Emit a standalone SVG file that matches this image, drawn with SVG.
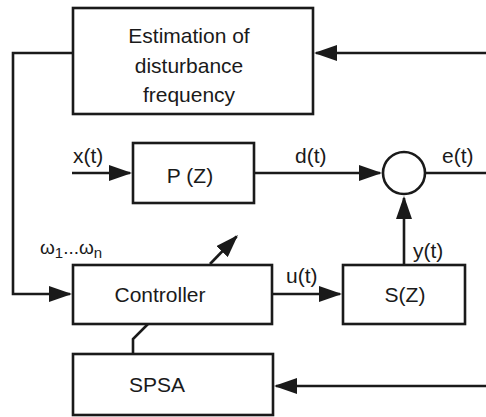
<svg xmlns="http://www.w3.org/2000/svg" width="486" height="417" viewBox="0 0 486 417">
<defs>
<style>
.box{fill:#fff;stroke:#1a1a1a;stroke-width:2.6}
.ln{fill:none;stroke:#1a1a1a;stroke-width:2.6}
text{font-family:"Liberation Sans",Arial,sans-serif;font-size:21px;fill:#1a1a1a}
.c{text-anchor:middle}
</style>
<marker id="ah" markerUnits="userSpaceOnUse" markerWidth="24" markerHeight="16" refX="21" refY="8" orient="auto">
<path d="M0,0 L23,8 L0,16 Z" fill="#1a1a1a"/>
</marker>
</defs>
<rect width="486" height="417" fill="#fff"/>
<g id="connectors">
<path class="ln" d="M486,53 L316,53" marker-end="url(#ah)"/>
<path class="ln" d="M73,53 L13,53 L13,294 L70,294"  marker-end="url(#ah)"/>
<path class="ln" d="M72,173 L130,173" marker-end="url(#ah)"/>
<path class="ln" d="M254,173 L380,173" marker-end="url(#ah)"/>
<path class="ln" d="M425,173 L486,173"/>
<path class="ln" d="M404,265 L404,198" marker-end="url(#ah)"/>
<path class="ln" d="M272,294 L340,294" marker-end="url(#ah)"/>
<path class="ln" d="M210,264 L236.6,236.5" marker-end="url(#ah)"/>
<path class="ln" d="M148,324 L133,339 L133,354"/>
<path class="ln" d="M486,386 L276,386" marker-end="url(#ah)"/>
</g>
<g id="estimation">
<rect class="box" x="73" y="8" width="240" height="106"/>
<text class="c" x="189" y="43">Estimation of</text>
<text class="c" x="189" y="73">disturbance</text>
<text class="c" x="189" y="102">frequency</text>
</g>
<g id="plant">
<rect class="box" x="133" y="143" width="121" height="60"/>
<text class="c" x="190" y="183">P (Z)</text>
</g>
<g id="sum">
<circle class="box" cx="404" cy="173" r="21"/>
</g>
<g id="controller">
<rect class="box" x="73" y="265" width="199" height="59"/>
<text class="c" x="160" y="302">Controller</text>
</g>
<g id="secondary">
<rect class="box" x="343" y="265" width="122" height="59"/>
<text class="c" x="405" y="302">S(Z)</text>
</g>
<g id="spsa">
<rect class="box" x="73" y="354" width="200" height="61"/>
<text class="c" x="157" y="392">SPSA</text>
</g>
<g id="labels">
<text x="73" y="163">x(t)</text>
<text x="295" y="163">d(t)</text>
<text x="442" y="163">e(t)</text>
<text x="413" y="258">y(t)</text>
<text x="286" y="283">u(t)</text>
<text x="40" y="254" style="font-size:19px">ω<tspan dy="4" style="font-size:15px">1</tspan><tspan dy="-4">...ω</tspan><tspan dy="4" style="font-size:15px">n</tspan></text>
</g>
</svg>
